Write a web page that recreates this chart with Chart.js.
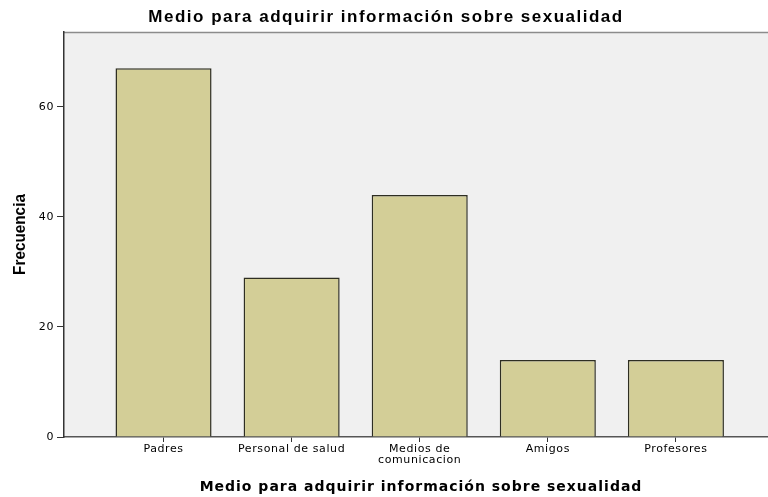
<!DOCTYPE html>
<html>
<head>
<meta charset="utf-8">
<script src="https://cdn.jsdelivr.net/npm/chart.js@4/dist/chart.umd.min.js"></script>
<style>
  html, body { margin: 0; padding: 0; background: #fff; }
  canvas { display: block; }
</style>
</head>
<body>
<canvas id="chart" width="768" height="497"></canvas>
<script>
"use strict";

// ── 데이터 ─────────────────────────────────────────────
const categories = ["Padres", "Personal de salud", ["Medios de", "comunicacion"], "Amigos", "Profesores"];
const frecuencias = [67, 29, 44, 14, 14];
const yTicks = [0, 20, 40, 60];

const chartTitle = "Medio para adquirir información sobre sexualidad";
const xTitle = "Medio para adquirir información sobre sexualidad";
const yTitle = "Frecuencia";

// 플롯 영역 배경 + 상단 테두리, 눈금 글자 간격
const plotBackground = {
  id: "plotBackground",
  beforeDraw(chart) {
    const { ctx, chartArea: a } = chart;
    ctx.save();
    ctx.fillStyle = "#f0f0f0";
    ctx.fillRect(a.left, a.top, a.right - a.left, a.bottom - a.top);
    ctx.strokeStyle = "#8c8c8c";
    ctx.lineWidth = 1.5;
    ctx.beginPath();
    ctx.moveTo(a.left, a.top + 0.5);
    ctx.lineTo(a.right, a.top + 0.5);
    ctx.stroke();
    ctx.restore();
    ctx.letterSpacing = "0.6px";
  },
  afterDraw(chart) {
    const { ctx, chartArea: a, width } = chart;
    ctx.save();
    ctx.fillStyle = "#000";
    ctx.textAlign = "center";
    ctx.textBaseline = "middle";

    // 차트 제목
    ctx.letterSpacing = "1.5px";
    ctx.font = "bold 17px 'Liberation Sans'";
    ctx.fillText(chartTitle, width / 2 + 2, 17);

    // x축 제목
    ctx.letterSpacing = "1px";
    ctx.font = "bold 14px 'DejaVu Sans'";
    ctx.fillText(xTitle, (a.left + a.right) / 2 + 5, 487);

    // y축 제목 (세로로 약간 압축)
    ctx.letterSpacing = "0px";
    ctx.font = "bold 17px 'Liberation Sans'";
    ctx.translate(20, (a.top + a.bottom) / 2);
    ctx.rotate(-Math.PI / 2);
    ctx.scale(0.9, 1);
    ctx.fillText(yTitle, 0, 0);
    ctx.restore();
    ctx.letterSpacing = "0px";
  },
};

new Chart(document.getElementById("chart"), {
  type: "bar",
  data: {
    datasets: [{
      data: frecuencias.map((v, i) => ({ x: i, y: v })),
      backgroundColor: "#d3ce97",
      borderColor: "#2e2e22",
      borderWidth: 1.5,
      barPercentage: 0.75,
      categoryPercentage: 1,
    }],
  },
  options: {
    responsive: false,
    animation: false,
    layout: { padding: { top: 32, left: 0, right: 0, bottom: 0 } },
    plugins: {
      legend: { display: false },
      tooltip: { enabled: false },
      title: { display: false },
    },
    scales: {
      x: {
        type: "linear",
        offset: false,
        min: -0.777,
        max: 4.719,
        afterBuildTicks(axis) {
          axis.ticks = categories.map((_, i) => ({ value: i }));
        },
        afterFit(axis) { axis.height = 60; },
        grid: {
          offset: false,
          drawOnChartArea: false,
          drawTicks: true,
          tickLength: 5,
          color: "#333",
        },
        border: { color: "#555", width: 1.5 },
        ticks: {
          autoSkip: false,
          maxRotation: 0,
          padding: 2,
          color: "#000",
          font: { family: "DejaVu Sans", size: 11, lineHeight: 1.0 },
          callback: v => categories[v],
        },
      },
      y: {
        min: 0,
        max: 73.6,
        afterBuildTicks(axis) {
          axis.ticks = yTicks.map(v => ({ value: v }));
        },
        afterFit(axis) { axis.width = 64; },
        grid: {
          drawOnChartArea: false,
          drawTicks: true,
          tickLength: 7,
          color: "#333",
        },
        border: { color: "#333", width: 1.5 },
        ticks: {
          padding: 3,
          color: "#000",
          font: { family: "DejaVu Sans", size: 11 },
        },
      },
    },
  },
  plugins: [plotBackground],
});
</script>
</body>
</html>
